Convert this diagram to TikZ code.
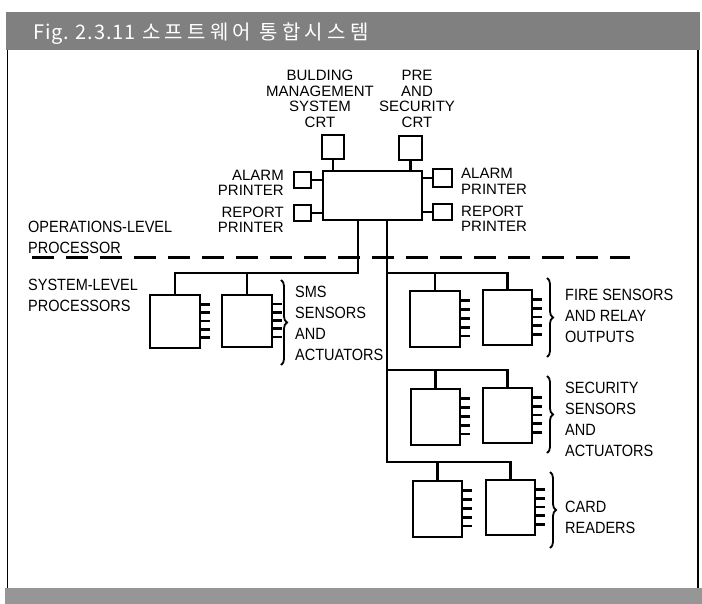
\documentclass[tikz,border=0pt]{standalone}
\usepackage{fontspec}
\setmainfont{Liberation Sans}
\newfontfamily\lab{Liberation Sans}[FakeStretch=0.89]
\newfontfamily\krlat{Noto Sans CJK KR}[LetterSpace=4]
\newfontfamily\kr{Noto Sans CJK KR}[LetterSpace=21]
\usetikzlibrary{calc,decorations.pathreplacing}
\definecolor{bandgray}{RGB}{128,128,128}
\definecolor{bandgray2}{RGB}{150,150,150}
\tikzset{
  pbox/.style={draw, line width=2.7pt, inner sep=0pt, fill=white},
  bus/.style={line width=2.5pt},
  thin/.style={line width=2.2pt},
  stub/.style={line width=2.7pt},
  toplab/.style={inner sep=0pt, font=\fontsize{15}{15.5}\selectfont},
  lowlab/.style={inner sep=0pt, align=left, font=\lab\fontsize{16.3}{21}\selectfont},
  brc/.style={line width=1.8pt, decorate, decoration={brace, amplitude=6pt}},
  dashline/.style={line width=3pt, dash pattern=on 22pt off 12pt},
}
\newcommand{\stubs}[1]{%
  \foreach \f in {0.19,0.34,0.49,0.64,0.79}{%
    \draw[stub] ($(#1.north east)!\f!(#1.south east)$) -- ++(9,0);}}
\begin{document}
\begin{tikzpicture}[x=1pt,y=-1pt]
\useasboundingbox (0,0) rectangle (702,604);
% bands and frame
\fill[bandgray] (6,12) rectangle (700,50);
\fill[bandgray2] (5,588) rectangle (702,604);
\draw[line width=1.5pt] (7.5,50) -- (7.5,588);
\draw[line width=1.5pt] (698,50) -- (698,588);
\node[anchor=base west, inner sep=0pt, text=white, font=\krlat\fontsize{20}{20}\selectfont] (t1) at (33,40) {Fig. 2.3.11};
\node[anchor=base west, inner sep=0pt, text=white, font=\kr\fontsize{20}{20}\selectfont] (t2) at (142,40) {소프트웨어 통합시스템};

% operations-level processor and peripherals
\node[pbox, minimum width=99pt, minimum height=49pt] (cpu) at (372.5,195.5) {};
\node[pbox, minimum width=22pt, minimum height=24pt] (crt1) at (333,147) {};
\node[pbox, minimum width=23pt, minimum height=24pt] (crt2) at (410.5,148) {};
\node[pbox, minimum width=17pt, minimum height=16pt] (pal) at (302.5,180) {};
\node[pbox, minimum width=17pt, minimum height=16pt] (prp) at (302.5,213) {};
\node[pbox, minimum width=19pt, minimum height=18pt] (ral) at (442.5,178) {};
\node[pbox, minimum width=19pt, minimum height=16pt] (rrp) at (442.5,212) {};
\draw[thin] (crt1.south) -- (crt1.south |- cpu.north);
\draw[thin] (crt2.south) -- (crt2.south |- cpu.north);
\draw[thin] (pal.east) -- (pal.east -| cpu.west);
\draw[thin] (prp.east) -- (prp.east -| cpu.west);
\draw[thin] (ral.west) -- (ral.west -| cpu.east);
\draw[thin] (rrp.west) -- (rrp.west -| cpu.east);

\node[toplab, align=center] (lbms) at (320,99) {BULDING\\MANAGEMENT\\SYSTEM\\CRT};
\node[toplab, align=center] (lpre) at (417,99) {PRE\\AND\\SECURITY\\CRT};
\node[toplab, align=right, anchor=east] (lpal) at (284,183) {ALARM\\PRINTER};
\node[toplab, align=right, anchor=east] (lprp) at (284,220) {REPORT\\PRINTER};
\node[toplab, align=left, anchor=west] (lral) at (461,181.5) {ALARM\\PRINTER};
\node[toplab, align=left, anchor=west] (lrrp) at (461,219) {REPORT\\PRINTER};

% level labels and divider
\node[lowlab, anchor=west] (lop) at (28,237) {OPERATIONS-LEVEL\\PROCESSOR};
\node[lowlab, anchor=west] (lsys) at (28,295) {SYSTEM-LEVEL\\PROCESSORS};
\coordinate (dl) at (32,258);
\coordinate (dr) at (630,258);
\draw[dashline] (dl) -- (dr);

% SMS group
\node[pbox, minimum width=50pt, minimum height=53pt] (s1) at (175,321.5) {};
\node[pbox, minimum width=50pt, minimum height=52pt] (s2) at (247,321) {};
\stubs{s1}\stubs{s2}
\coordinate (bl) at (358,273);
\draw[bus] (bl |- cpu.south) -- (bl) -| (s1.north);
\draw[bus] (s2.north) -- (s2.north |- bl);
\coordinate (bsa) at (281,280);
\coordinate (bsb) at (281,365);
\draw[brc] (bsa) -- (bsb);
\node[lowlab, anchor=west] (lsms) at (295,323.5) {SMS\\SENSORS\\AND\\ACTUATORS};

% fire group
\node[pbox, minimum width=50pt, minimum height=56pt] (f1) at (435,319) {};
\node[pbox, minimum width=49pt, minimum height=55pt] (f2) at (507.5,317.5) {};
\stubs{f1}\stubs{f2}
\coordinate (br) at (387,462);
\coordinate (bf) at (387,273);
\coordinate (bq) at (387,370);
\node[pbox, minimum width=49pt, minimum height=56pt] (k1) at (437.5,509) {};
\node[pbox, minimum width=49pt, minimum height=55pt] (k2) at (510.5,507.5) {};
\draw[bus] (br |- cpu.south) -- (br) -| (k2.north);
\draw[bus] (k1.north) -- (k1.north |- br);
\draw[bus] (bf) -| (f2.north);
\draw[bus] (f1.north) -- (f1.north |- bf);
\coordinate (bfa) at (547,278);
\coordinate (bfb) at (547,357);
\draw[brc] (bfa) -- (bfb);
\node[lowlab, anchor=west] (lfire) at (565,315.5) {FIRE SENSORS\\AND RELAY\\OUTPUTS};

% security group
\node[pbox, minimum width=49pt, minimum height=56pt] (q1) at (435.5,417) {};
\node[pbox, minimum width=49pt, minimum height=55pt] (q2) at (507.5,415.5) {};
\stubs{q1}\stubs{q2}
\draw[bus] (bq) -| (q2.north);
\draw[bus] (q1.north) -- (q1.north |- bq);
\coordinate (bqa) at (547,376);
\coordinate (bqb) at (547,453);
\draw[brc] (bqa) -- (bqb);
\node[lowlab, anchor=west] (lsec) at (565,419.5) {SECURITY\\SENSORS\\AND\\ACTUATORS};

% card readers
\stubs{k1}\stubs{k2}
\coordinate (bka) at (550,472);
\coordinate (bkb) at (550,548);
\draw[brc] (bka) -- (bkb);
\node[lowlab, anchor=west] (lcard) at (565,517.5) {CARD\\READERS};
\end{tikzpicture}
\end{document}
